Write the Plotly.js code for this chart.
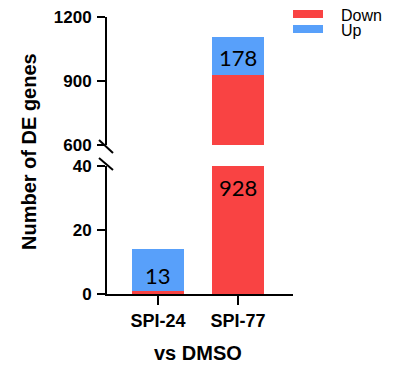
<!DOCTYPE html>
<html>
<head>
<meta charset="utf-8">
<script src="https://cdn.plot.ly/plotly-3.0.1.min.js"></script>
<style>html,body{margin:0;padding:0;background:#fff;}#chart{width:398px;height:368px;}</style>
</head>
<body>
<div id="chart"></div>
<script>
const categories = ['SPI-24', 'SPI-77'];
const downValues = [1, 928];
const upValues = [13, 178];
const seriesNames = ['Down', 'Up'];
const lowerTicks = [0, 20, 40];
const upperTicks = [600, 900, 1200];
const yTitle = 'Number of DE genes';
const xTitle = 'vs DMSO';

const RED = '#f94343';
const BLUE = '#58a0fa';
const tickFont = {family: 'Liberation Sans, Arial, sans-serif', size: 17, color: '#000', weight: 'bold'};
const labelFont = {family: 'Lato, sans-serif', size: 22, color: '#000'};

// plot area geometry (pixels) for helper conversions
const W = 398, H = 368, L = 107, R = 105, T = 17, B = 74;
const PW = W - L - R, PH = H - T - B;
const px = v => (v - L) / PW;
const py = v => (H - B - v) / PH;

const lowerDomain = [0, 128 / PH];
const upperDomain = [149 / PH, 1];

const barWidth = 0.66;
const traces = [];
['y', 'y2'].forEach(ya => {
  traces.push({type: 'bar', x: categories, y: downValues, name: seriesNames[0], yaxis: ya,
    marker: {color: RED, line: {width: 0}}, width: barWidth, showlegend: false, hoverinfo: 'skip'});
  traces.push({type: 'bar', x: categories, y: upValues, name: seriesNames[1], yaxis: ya,
    marker: {color: BLUE, line: {width: 0}}, width: barWidth, showlegend: false, hoverinfo: 'skip'});
});

const axisCommon = {showline: true, linecolor: '#000', linewidth: 2, ticks: 'outside', ticklen: 8,
  tickwidth: 2, tickcolor: '#000', showgrid: false, zeroline: false, tickfont: tickFont, fixedrange: true};

const annotations = [
  // value labels
  {x: categories[0], y: downValues[0] + upValues[0] / 2, xref: 'x', yref: 'y', text: String(upValues[0]),
    showarrow: false, font: labelFont, yshift: -5},
  {x: categories[1], y: lowerTicks[lowerTicks.length - 1], xref: 'x', yref: 'y', text: String(downValues[1]),
    showarrow: false, font: labelFont, yanchor: 'top', yshift: -6},
  {x: categories[1], y: downValues[1] + upValues[1] / 2, xref: 'x', yref: 'y2', text: String(upValues[1]),
    showarrow: false, font: labelFont, yshift: -1},
  // titles
  {x: px(29), y: py(152), xref: 'paper', yref: 'paper', xanchor: 'center', yanchor: 'middle',
    text: yTitle, textangle: -90, showarrow: false,
    font: {family: 'Liberation Sans, Arial, sans-serif', size: 20, color: '#000', weight: 'bold'}},
  {x: px(198), y: py(353), xref: 'paper', yref: 'paper', xanchor: 'center', yanchor: 'middle',
    text: xTitle, showarrow: false,
    font: {family: 'Liberation Sans, Arial, sans-serif', size: 20, color: '#000', weight: 'bold'}},
  // legend texts
  {x: px(339), y: py(16), xref: 'paper', yref: 'paper', text: seriesNames[0], showarrow: false,
    xanchor: 'left', yanchor: 'middle',
    font: {family: 'Liberation Sans, Arial, sans-serif', size: 16, color: '#000'}},
  {x: px(339), y: py(30), xref: 'paper', yref: 'paper', text: seriesNames[1], showarrow: false,
    xanchor: 'left', yanchor: 'middle',
    font: {family: 'Liberation Sans, Arial, sans-serif', size: 16, color: '#000'}}
];

const shapes = [
  // axis break marks
  {type: 'line', xref: 'paper', yref: 'paper', x0: px(99), y0: py(140), x1: px(113), y1: py(153), line: {color: '#000', width: 2}},
  {type: 'line', xref: 'paper', yref: 'paper', x0: px(99), y0: py(158), x1: px(113), y1: py(170), line: {color: '#000', width: 2}},
  // legend swatches
  {type: 'rect', xref: 'paper', yref: 'paper', x0: px(293), x1: px(323), y0: py(18), y1: py(10), fillcolor: RED, line: {width: 0}},
  {type: 'rect', xref: 'paper', yref: 'paper', x0: px(293), x1: px(323), y0: py(33), y1: py(25), fillcolor: BLUE, line: {width: 0}}
];

const layout = {
  width: W, height: H,
  margin: {l: L, r: R, t: T, b: B, pad: 0},
  paper_bgcolor: '#fff', plot_bgcolor: 'rgba(0,0,0,0)',
  barmode: 'stack', bargap: 0,
  showlegend: false,
  xaxis: Object.assign({}, axisCommon, {type: 'category', range: [-0.6375, 1.6875], ticklen: 9,
    anchor: 'y', tickfont: Object.assign({}, tickFont, {size: 18})}),
  yaxis: Object.assign({}, axisCommon, {domain: lowerDomain, range: [lowerTicks[0], lowerTicks[lowerTicks.length - 1]],
    tickvals: lowerTicks, anchor: 'x', ticklabelstandoff: 2}),
  yaxis2: Object.assign({}, axisCommon, {domain: upperDomain, range: [upperTicks[0], upperTicks[upperTicks.length - 1]],
    tickvals: upperTicks, anchor: 'x', ticklabelstandoff: 2}),
  annotations: annotations,
  shapes: shapes
};

Plotly.newPlot('chart', traces, layout, {staticPlot: true, displayModeBar: false});
</script>
</body>
</html>
